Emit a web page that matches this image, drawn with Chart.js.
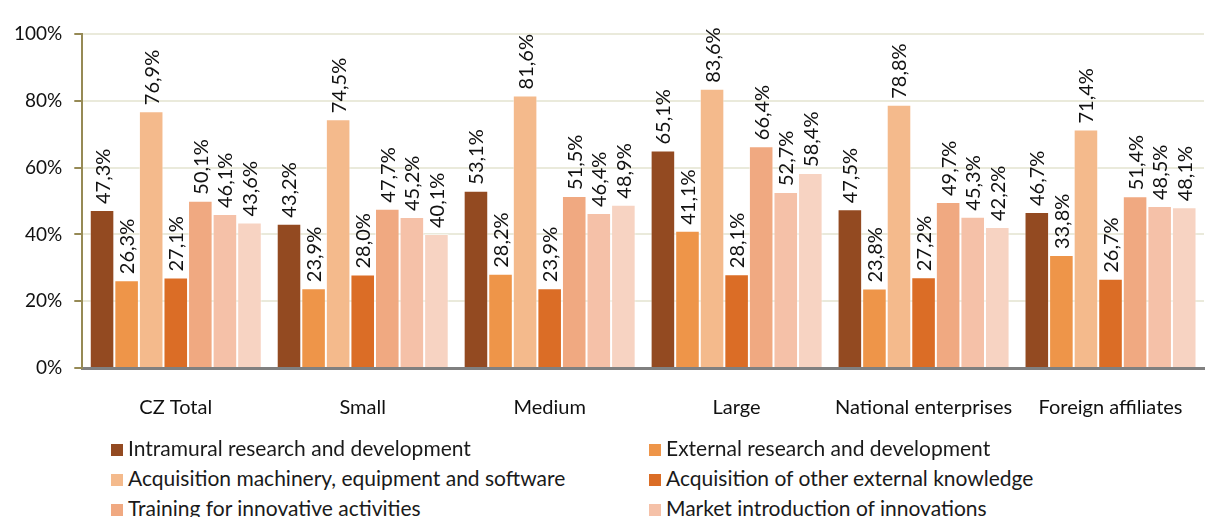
<!DOCTYPE html>
<html lang="en">
<head>
    <meta charset="UTF-8">
    <title>Innovation activities</title>
    <script src="https://cdn.jsdelivr.net/npm/chart.js"></script>
    <style>
        body { margin: 0; background: #fff; font-family: Lato, sans-serif; }
        #wrap { position: relative; width: 1206px; height: 517px; overflow: hidden; }
        #chart { position: absolute; left: 0; top: 0; }
        #legend { position: absolute; left: 111px; top: 436px; width: 1095px; }
        .item { position: absolute; font-size: 21px; color: #1a1a1a; white-space: nowrap; line-height: 24px; }
        .box { display: inline-block; width: 12px; height: 12px; margin-right: 5px; vertical-align: 0px; }
    </style>
</head>
<body>
<div id="wrap">
    <canvas id="chart" width="1206" height="440"></canvas>
    <div id="legend"></div>
</div>
<script>
    const categories = ['CZ Total', 'Small', 'Medium', 'Large', 'National enterprises', 'Foreign affiliates'];
    const seriesNames = [
        'Intramural research and development',
        'External research and development',
        'Acquisition machinery, equipment and software',
        'Acquisition of other external knowledge',
        'Training for innovative activities',
        'Market introduction of innovations',
        'Other'
    ];
    const intramural = [47.3, 43.2, 53.1, 65.1, 47.5, 46.7];
    const externalRD = [26.3, 23.9, 28.2, 41.1, 23.8, 33.8];
    const machinery = [76.9, 74.5, 81.6, 83.6, 78.8, 71.4];
    const otherKnowledge = [27.1, 28.0, 23.9, 28.1, 27.2, 26.7];
    const training = [50.1, 47.7, 51.5, 66.4, 49.7, 51.4];
    const marketIntro = [46.1, 45.2, 46.4, 52.7, 45.3, 48.5];
    const other = [43.6, 40.1, 48.9, 58.4, 42.2, 48.1];
    const yTicks = [0, 20, 40, 60, 80, 100];
    const colors = ['#934A21', '#EE9549', '#F4BA8C', '#DB6D26', '#F0A981', '#F5C1A8', '#F7D3C2'];

    const values = [intramural, externalRD, machinery, otherKnowledge, training, marketIntro, other];
    const fmt = v => v.toFixed(1).replace('.', ',') + '%';

    // rotated value labels above each bar
    const barLabels = {
        id: 'barLabels',
        afterDatasetsDraw(chart) {
            const ctx = chart.ctx;
            ctx.save();
            ctx.font = '20px Lato';
            ctx.fillStyle = '#111';
            ctx.textAlign = 'left';
            ctx.textBaseline = 'middle';
            chart.data.datasets.forEach((ds, i) => {
                chart.getDatasetMeta(i).data.forEach((bar, j) => {
                    ctx.save();
                    ctx.translate(bar.x, bar.y - 6);
                    ctx.rotate(-Math.PI / 2);
                    ctx.fillText(fmt(ds.data[j]), 0, 1);
                    ctx.restore();
                });
            });
            ctx.restore();
        }
    };

    new Chart(document.getElementById('chart'), {
        type: 'bar',
        data: {
            labels: categories,
            datasets: values.map((d, i) => ({
                label: seriesNames[i],
                data: d,
                backgroundColor: colors[i],
                borderColor: 'rgba(255,255,255,0.5)',
                borderWidth: 1,
                categoryPercentage: 0.92,
                barPercentage: 1
            }))
        },
        options: {
            responsive: false,
            animation: false,
            layout: { padding: { top: 34, right: 2, left: 2, bottom: 0 } },
            plugins: { legend: { display: false }, tooltip: { enabled: false } },
            scales: {
                x: {
                    grid: { display: false },
                    border: { display: true, color: '#808080', width: 3 },
                    ticks: { color: '#111', font: { family: 'Lato', size: 20 }, padding: 20, maxRotation: 0 }
                },
                y: {
                    min: 0, max: 100,
                    afterBuildTicks: s => { s.ticks = yTicks.map(v => ({ value: v })); },
                    grid: {
                        color: '#EAEADB', lineWidth: 2, borderDash: [10, 5],
                        tickColor: '#968A55', tickLength: 8, tickWidth: 2, tickBorderDash: []
                    },
                    border: { display: true, color: '#968A55', width: 2 },
                    ticks: { color: '#111', font: { family: 'Lato', size: 19 }, padding: 12, callback: v => v + '%' }
                }
            }
        },
        plugins: [barLabels]
    });

    // two-column legend, first six series
    const legend = document.getElementById('legend');
    seriesNames.slice(0, 6).forEach((name, i) => {
        const el = document.createElement('div');
        el.className = 'item';
        el.style.left = (i % 2 ? 538 : 0) + 'px';
        el.style.top = (Math.floor(i / 2) * 30) + 'px';
        el.innerHTML = '<span class="box" style="background:' + colors[i] + '"></span>' + name;
        legend.appendChild(el);
    });
</script>
</body>
</html>
